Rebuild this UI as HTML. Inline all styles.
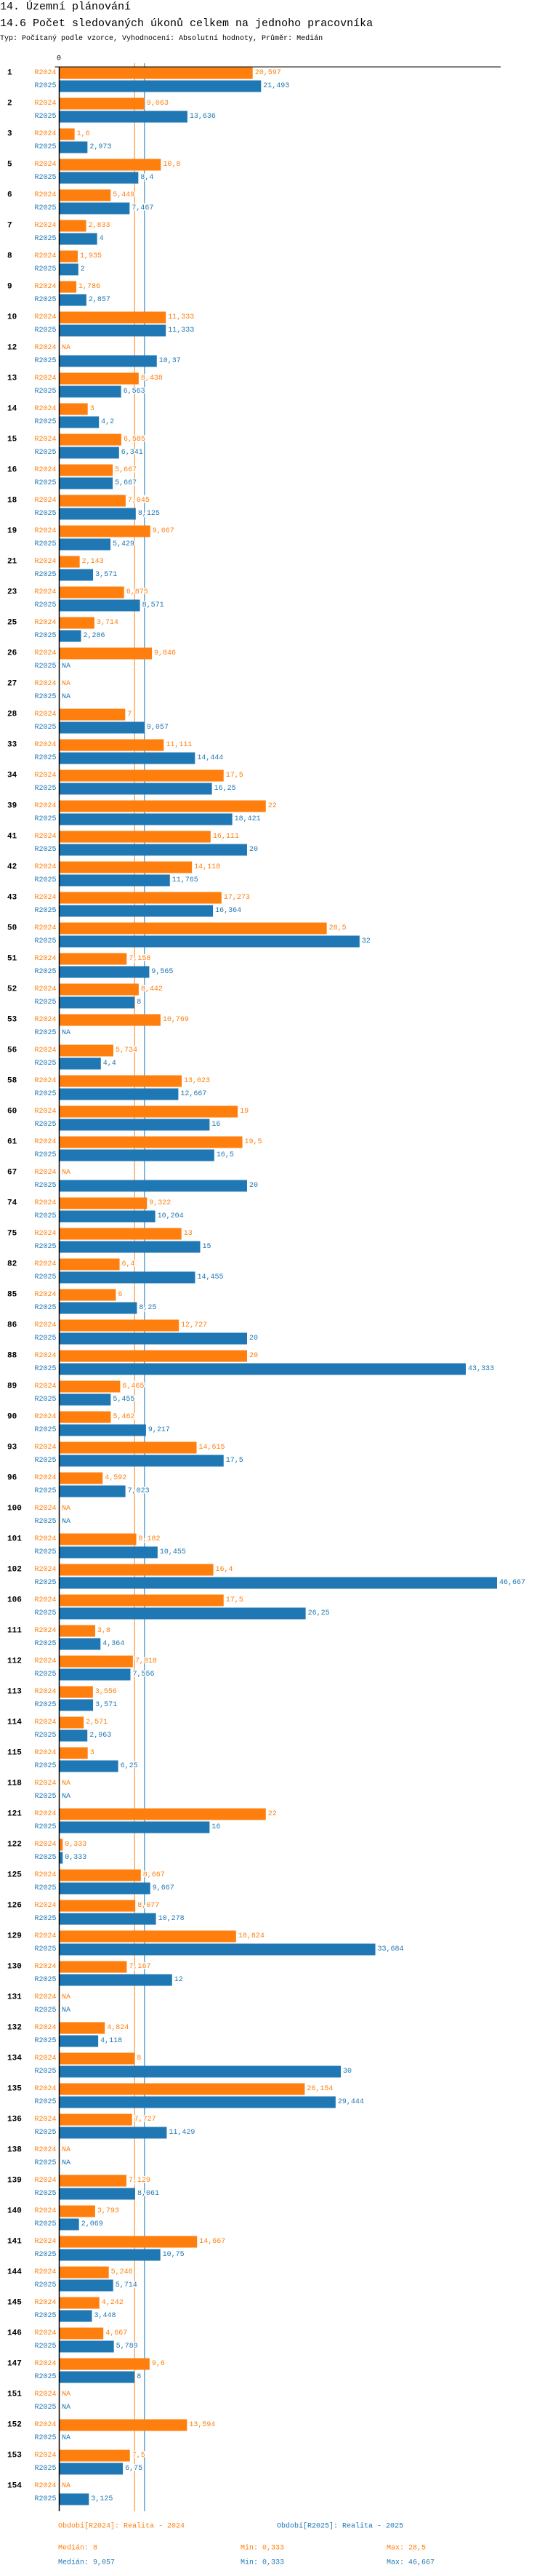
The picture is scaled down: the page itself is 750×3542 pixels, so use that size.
<!DOCTYPE html>
<html><head><meta charset="utf-8">
<style>
html,body{margin:0;padding:0;background:#fff;}
svg{display:block;}
text{font-family:"Liberation Mono","DejaVu Sans Mono",monospace;}
</style></head>
<body>
<svg id="chart" xmlns="http://www.w3.org/2000/svg" width="750" height="3542" viewBox="0 0 750 3542">
<text x="0" y="13" font-size="15" fill="#000">14. Územní plánování</text>
<text x="0" y="36" font-size="15" fill="#000">14.6 Počet sledovaných úkonů celkem na jednoho pracovníka</text>
<text x="0" y="55" font-size="10" fill="#000">Typ: Počítaný podle vzorce, Vyhodnocení: Absolutní hodnoty, Průměr: Medián</text>
<g id="plot"></g>
<g id="legend"></g>
</svg>
<script>
const categories = ["1","2","3","5","6","7","8","9","10","12","13","14","15","16","18","19","21","23","25","26","27","28","33","34","39","41","42","43","50","51","52","53","56","58","60","61","67","74","75","82","85","86","88","89","90","93","96","100","101","102","106","111","112","113","114","115","118","121","122","125","126","129","130","131","132","134","135","136","138","139","140","141","144","145","146","147","151","152","153","154"];
const values2024 = [20.597,9.063,1.6,10.8,5.449,2.833,1.935,1.786,11.333,null,8.438,3,6.585,5.667,7.045,9.667,2.143,6.875,3.714,9.846,null,7,11.111,17.5,22,16.111,14.118,17.273,28.5,7.158,8.442,10.769,5.734,13.023,19,19.5,null,9.322,13,6.4,6,12.727,20,6.465,5.462,14.615,4.592,null,8.182,16.4,17.5,3.8,7.818,3.556,2.571,3,null,22,0.333,8.667,8.077,18.824,7.167,null,4.824,8,26.154,7.727,null,7.129,3.793,14.667,5.246,4.242,4.667,9.6,null,13.594,7.5,null];
const values2025 = [21.493,13.636,2.973,8.4,7.467,4,2,2.857,11.333,10.37,6.563,4.2,6.341,5.667,8.125,5.429,3.571,8.571,2.286,null,null,9.057,14.444,16.25,18.421,20,11.765,16.364,32,9.565,8,null,4.4,12.667,16,16.5,20,10.204,15,14.455,8.25,20,43.333,5.455,9.217,17.5,7.023,null,10.455,46.667,26.25,4.364,7.556,3.571,2.963,6.25,null,16,0.333,9.667,10.278,33.684,12,null,4.118,30,29.444,11.429,null,8.061,2.069,10.75,5.714,3.448,5.789,8,null,null,6.75,3.125];
const seriesNames = ["R2024","R2025"];
const medians = [8, 9.057];
const mins = [0.333, 0.333];
const maxs = [28.5, 46.667];

const NS = "http://www.w3.org/2000/svg";
const colors = ["#ff7f0e","#1f77b4"];
const X0 = 82, PXU = 12.9;
const TOP = 92, FIRST = 100.5, PITCH = 42.0, SUB = 18, BH = 16;
const AXIS_BOTTOM = 3453;
function xScale(v){ return X0 + v*PXU; }
function yRow(i, s){ return FIRST + i*PITCH + s*SUB; }
function fmt(v){ return String(v).replace('.', ','); }
function mk(tag, attrs, parent){
  const e = document.createElementNS(NS, tag);
  for (const k in attrs) e.setAttribute(k, attrs[k]);
  parent.appendChild(e); return e;
}
const plot = document.getElementById('plot');

// median lines
medians.forEach((m, s) => {
  const l = mk('line', {x1: xScale(m), x2: xScale(m), y1: 87, y2: AXIS_BOTTOM, stroke: colors[s], 'stroke-width': 1}, plot);
  
  
});

const series = [values2024, values2025];
categories.forEach((c, i) => {
  const g = mk('g', {}, plot);
  
  
  const gl = mk('text', {x: 10, y: yRow(i,0), 'font-size': 11, 'font-weight': 'bold', fill: '#000', 'dominant-baseline': 'central'}, g);
  gl.textContent = c;
  
  
  series.forEach((vals, s) => {
    const y = yRow(i, s);
    const sl = mk('text', {x: 77.5, y: y, 'font-size': 10, fill: colors[s], 'text-anchor': 'end', 'dominant-baseline': 'central'}, g);
    sl.textContent = seriesNames[s];
    
    
    const v = vals[i];
    let tx = X0 + 3;
    if (v !== null) {
      const r = mk('rect', {x: X0, y: y - BH/2, width: xScale(v) - X0, height: BH, fill: colors[s]}, g);
      
      
      tx = xScale(v) + 3;
    }
    const vl = mk('text', {x: tx, y: y, 'font-size': 10, fill: colors[s], 'dominant-baseline': 'central', stroke: '#fff', 'stroke-width': 3, 'paint-order': 'stroke'}, g);
    vl.textContent = v === null ? 'NA' : fmt(v);
    
    
  });
});

// axes
const ax = mk('line', {x1: 81.5, x2: 81.5, y1: TOP, y2: AXIS_BOTTOM, stroke: '#000', 'stroke-width': 1.5}, plot);


const tx = mk('line', {x1: 75.5, x2: 689, y1: TOP, y2: TOP, stroke: '#000', 'stroke-width': 1}, plot);


const zero = mk('text', {x: 81, y: 81, 'font-size': 10, fill: '#000', 'text-anchor': 'middle', 'dominant-baseline': 'central'}, plot);
zero.textContent = '0';



// legend
const leg = document.getElementById('legend');
const legTitles = ["Období[R2024]: Realita - 2024", "Období[R2025]: Realita - 2025"];
const legX = [80, 381];
legTitles.forEach((t, s) => {
  const e = mk('text', {x: legX[s], y: 3474, 'font-size': 10, fill: colors[s], 'dominant-baseline': 'central'}, leg);
  e.textContent = t;
  
  
});
[0,1].forEach(s => {
  const y = 3504 + s*20;
  const a = mk('text', {x: 80, y: y, 'font-size': 10, fill: colors[s], 'dominant-baseline': 'central'}, leg);
  a.textContent = 'Medián: ' + fmt(medians[s]);
  
  
  const b = mk('text', {x: 331, y: y, 'font-size': 10, fill: colors[s], 'dominant-baseline': 'central'}, leg);
  b.textContent = 'Min: ' + fmt(mins[s]);
  
  
  const c = mk('text', {x: 532, y: y, 'font-size': 10, fill: colors[s], 'dominant-baseline': 'central'}, leg);
  c.textContent = 'Max: ' + fmt(maxs[s]);
  
  
});
</script>
</body></html>
